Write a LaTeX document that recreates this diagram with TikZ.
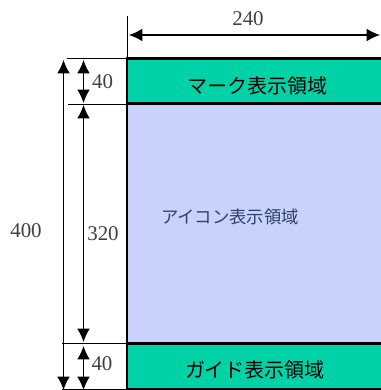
\documentclass[tikz,border=0pt]{standalone}
\usepackage{fontspec}
\setmainfont{Liberation Serif}
\newfontfamily\cjk{Noto Sans CJK JP}
\usetikzlibrary{arrows.meta}
\definecolor{teal1}{HTML}{00D2A8}
\definecolor{blue1}{HTML}{C8D2FB}
\definecolor{bluetext}{HTML}{2F3F70}
\tikzset{
  x=0.75pt,y=-0.75pt,
  thinline/.style={line width=0.75pt,black},
  dim/.style={line width=0.9pt,black,{Latex[length=10pt,width=9.5pt]}-{Latex[length=10pt,width=9.5pt]}},
  area/.style={draw=black,line width=2.2pt,anchor=north west,inner sep=0pt,outer sep=0pt},
  jlabel/.style={font=\cjk\fontsize{15pt}{17pt}\selectfont,inner sep=0pt},
  numlabel/.style={font=\fontsize{15.7pt}{18pt}\selectfont,text=black!75,inner sep=0pt},
}
\begin{document}
\begin{tikzpicture}
\useasboundingbox (0,0) rectangle (380,390);
\fill[white] (0,0) rectangle (380,390);
\node[area,fill=teal1,minimum width=260*0.75pt,minimum height=45*0.75pt] (mark) at (127,58.5) {};
\node[area,fill=blue1,minimum width=260*0.75pt,minimum height=240*0.75pt] (icon) at (127,103.5) {};
\node[area,fill=teal1,minimum width=260*0.75pt,minimum height=46*0.75pt] (guide) at (127,343.5) {};
\node[jlabel] (marktext) at (257,85.5) {マーク表示領域};
\node[jlabel,text=bluetext,font=\cjk\fontsize{13pt}{15pt}\selectfont] (icontext) at (230,217) {アイコン表示領域};
\node[jlabel] (guidetext) at (255,370) {ガイド表示領域};
\coordinate (vtop) at (127,16);
\coordinate (vbot) at (127,390);
\coordinate (t1) at (67,58);
\coordinate (t2) at (127,58);
\coordinate (m1) at (68,104);
\coordinate (m2) at (127,104);
\coordinate (n1) at (62,343);
\coordinate (n2) at (127,343);
\coordinate (b1) at (62,389.5);
\coordinate (b2) at (127,389.5);
\draw[thinline] (vtop)--(vbot);
\draw[thinline] (t1)--(t2);
\draw[thinline] (m1)--(m2);
\draw[thinline] (n1)--(n2);
\draw[thinline] (b1)--(b2);
\coordinate (hl) at (129,35);
\coordinate (hr) at (380,35);
\draw[dim] (hl)--(hr);
\coordinate (a1) at (63.5,60);
\coordinate (a2) at (63.5,390);
\draw[dim] (a1)--(a2);
\coordinate (b1a) at (83.5,60);
\coordinate (b1b) at (83.5,103);
\draw[dim] (b1a)--(b1b);
\coordinate (c1a) at (83.5,105);
\coordinate (c1b) at (83.5,342);
\draw[dim] (c1a)--(c1b);
\coordinate (d1a) at (83.5,346);
\coordinate (d1b) at (83.5,390);
\draw[dim] (d1a)--(d1b);
\node[numlabel] (w) at (248,19) {240};
\node[numlabel] (h) at (26,231) {400};
\node[numlabel] (s1) at (102.5,82) {40};
\node[numlabel] (s2) at (103,234) {320};
\node[numlabel] (s3) at (102,364) {40};
\end{tikzpicture}
\end{document}
